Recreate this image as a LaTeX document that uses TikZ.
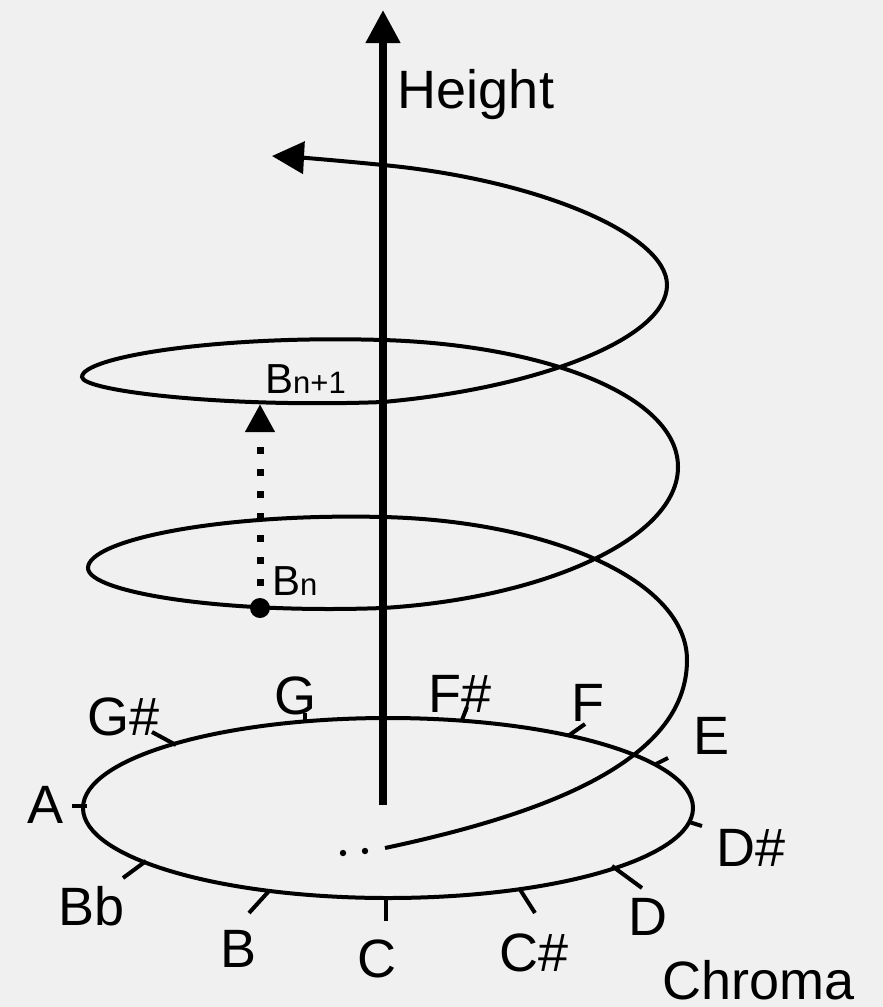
\documentclass[tikz,border=0pt]{standalone}
\usepackage{fontspec}
\setmainfont{Liberation Sans}
\usetikzlibrary{arrows.meta}
\definecolor{bg}{RGB}{240,240,240}
\begin{document}
\begin{tikzpicture}[x=1pt,y=-1pt,
  lbl/.style={font=\fontsize{54}{60}\selectfont, inner sep=0pt, anchor=base},
  blbl/.style={font=\fontsize{42}{48}\selectfont, inner sep=0pt, anchor=base west},
  curve/.style={line width=4pt},
  tickline/.style={line width=4pt},
  axisline/.style={line width=7.5pt, -{Triangle[length=33pt,width=33pt]}},
  dotarrow/.style={line width=7pt, dash pattern=on 7pt off 15pt, -{Triangle[length=28pt,width=28pt]}},
  ]
\fill[bg] (0,0) rectangle (883,1007);
\useasboundingbox (0,0) rectangle (883,1007);

% base chroma circle
\draw[curve] (388,808) ellipse [x radius=305, y radius=90];

% ticks
\draw[tickline] (386,896) -- (386,921);
\draw[tickline] (519,888) -- (535,913);
\draw[tickline] (612,866) -- (642,888);
\draw[tickline] (689,822) -- (702,826);
\draw[tickline] (656,764) -- (668,758);
\draw[tickline] (568,736) -- (585,724);
\draw[tickline] (462,720) -- (467,707);
\draw[tickline] (305,721) -- (305,713);
\draw[tickline] (176,745) -- (152,732);
\draw[tickline] (87,806) -- (72,806);
\draw[tickline] (146,861) -- (123,878);
\draw[tickline] (269,891) -- (249,913);

% leading dots of the spiral
\fill (343,853) circle (3.2);
\fill (365,851) circle (3.2);

% spiral
\draw[curve, -{Triangle[length=32pt,width=32pt]}]
  (385,848) .. controls (540,815) and (687,763) .. (687,660)
  .. controls (687,581) and (551,521) .. (383,517)
  .. controls (220,513) and (88,540) .. (88,568)
  .. controls (88,592) and (220,614) .. (383,608)
  .. controls (546,598) and (678,538) .. (678,467)
  .. controls (678,396) and (546,345) .. (383,340)
  .. controls (217,335) and (82,357) .. (82,377)
  .. controls (82,391) and (226,408) .. (383,402)
  .. controls (540,388) and (667,338) .. (667,285)
  .. controls (667,235) and (540,180) .. (383,165)
  .. controls (333,160) and (300,157.5) .. (272,156);

% height axis
\coordinate (axisbot) at (383,805);
\coordinate (axistop) at (383,10);
\draw[axisline] (axisbot) -- (axistop);

% octave arrow
\coordinate (bnp) at (260,404);
\draw[dotarrow] (260,608) -- (bnp);
\node[circle, fill, inner sep=0pt, minimum size=20pt] (bn) at (260,608) {};

% labels
\node[blbl] (bn1lab) at (265,393) {B{\fontsize{31}{36}\selectfont n+1}};
\node[blbl] (bnlab) at (272,595) {B{\fontsize{31}{36}\selectfont n}};
\node[lbl] (height) at (476,108) {Height};
\node[lbl] (gs) at (124,735) {G\#};
\node[lbl] (g) at (295,714) {G};
\node[lbl] (a) at (46,823) {A};
\node[lbl] (bb) at (92,925) {Bb};
\node[lbl] (b) at (239,967) {B};
\node[lbl] (c) at (377,977) {C};
\node[lbl] (cs) at (534,971) {C\#};
\node[lbl] (d) at (648,935) {D};
\node[lbl] (ds) at (751,866) {D\#};
\node[lbl] (e) at (712,754) {E};
\node[lbl] (f) at (588,721) {F};
\node[lbl] (fs) at (460,712) {F\#};
\node[lbl] (chroma) at (759,999) {Chroma};
\end{tikzpicture}
\end{document}
